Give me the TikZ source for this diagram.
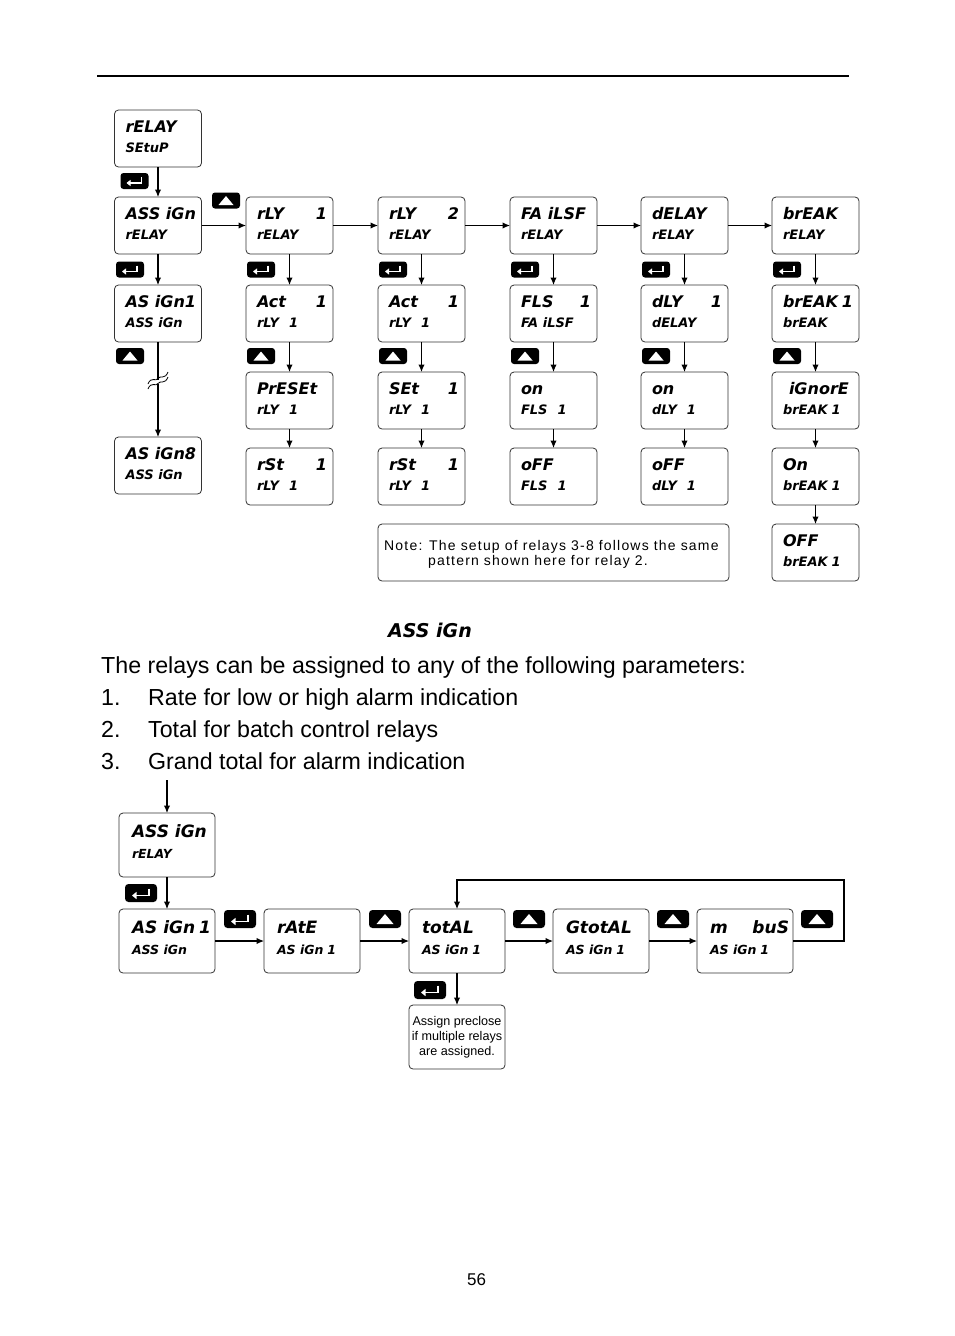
\documentclass[tikz,border=0pt]{standalone}
\usepackage{fontspec}
\setmainfont{Liberation Sans}
\newfontfamily\segfont{DejaVu Sans}
\usetikzlibrary{arrows.meta}
\newcommand\segA{\segfont\bfseries\itshape\fontsize{16}{16}\selectfont}
\newcommand\segB{\segfont\bfseries\itshape\fontsize{13}{13}\selectfont}
\newcommand\segD{\segfont\bfseries\itshape\fontsize{17}{17}\selectfont}
\newcommand\segC{\segfont\bfseries\itshape\fontsize{12.5}{12.5}\selectfont}
\newcommand\dispT[4]{\vbox to 57pt{\hsize=87pt\offinterlineskip\vskip22pt\hbox to 87pt{\hskip11pt\smash{\segA#1}\hfil\smash{\segA#2}\hskip6pt}\vskip20pt\hbox to 87pt{\hskip11pt\smash{\segB#3}\hfil\smash{\segB#4}\hskip6pt}\vfil}}
\newcommand\dispL[4]{\vbox to 64pt{\hsize=96pt\offinterlineskip\vskip24pt\hbox to 96pt{\hskip13pt\smash{\segD#1}\hfil\smash{\segD#2}\hskip4pt}\vskip21pt\hbox to 96pt{\hskip13pt\smash{\segC#3}\hfil\smash{\segC#4}\hskip5pt}\vfil}}
\tikzset{
  dbox/.style={draw=black!80, line width=0.8pt, rounded corners=4pt, inner sep=0pt, outer sep=0pt},
  conn/.style={line width=1.1pt, -{Latex[length=7.5pt,width=6.5pt]}},
  entA/.style={fill=black, rounded corners=3pt, minimum width=28pt, minimum height=16pt, inner sep=0pt,
    path picture={\draw[sharp corners, white, line width=1.5pt, -{Triangle[length=4pt,width=6pt]}]
      ([shift={(7,-4)}]path picture bounding box.center) -- ([shift={(7,2)}]path picture bounding box.center)
      -- ([shift={(-8,2)}]path picture bounding box.center);}},
  upA/.style={fill=black, rounded corners=3pt, minimum width=28pt, minimum height=16pt, inner sep=0pt,
    path picture={\fill[sharp corners, white] ([shift={(-7.5,4.5)}]path picture bounding box.center) -- ([shift={(7.5,4.5)}]path picture bounding box.center)
      -- ([shift={(0,-4.5)}]path picture bounding box.center) -- cycle;}},
  entB/.style={fill=black, rounded corners=3.5pt, minimum width=32pt, minimum height=18pt, inner sep=0pt,
    path picture={\draw[sharp corners, white, line width=1.7pt, -{Triangle[length=4.5pt,width=7pt]}]
      ([shift={(8,-4.5)}]path picture bounding box.center) -- ([shift={(8,2.5)}]path picture bounding box.center)
      -- ([shift={(-9,2.5)}]path picture bounding box.center);}},
  upB/.style={fill=black, rounded corners=3.5pt, minimum width=32pt, minimum height=18pt, inner sep=0pt,
    path picture={\fill[sharp corners, white] ([shift={(-8.5,5)}]path picture bounding box.center) -- ([shift={(8.5,5)}]path picture bounding box.center)
      -- ([shift={(0,-5)}]path picture bounding box.center) -- cycle;}},
  body/.style={anchor=base west, inner sep=0pt, font=\fontsize{23.2}{23.2}\selectfont},
  notetxt/.style={anchor=base west, inner sep=0pt, font=\addfontfeature{LetterSpace=8.5}\fontsize{14}{14}\selectfont},
}
\begin{document}
\begin{tikzpicture}[x=1pt,y=-1pt]
\useasboundingbox (0,0) rectangle (954,1336);
\fill[white] (0,0) rectangle (954,1336);
\draw[line width=1.3pt] (97,76) -- (849,76);

% ---------- top flow ----------
\node[dbox] (r0) at (158,138.5) {\dispT{rELAY}{}{SEtuP}{}};
\node[dbox] (a1) at (158,225.5) {\dispT{ASS iGn}{}{rELAY}{}};
\node[dbox] (b1) at (289.5,225.5) {\dispT{rLY}{1}{rELAY}{}};
\node[dbox] (b2) at (421.5,225.5) {\dispT{rLY}{2}{rELAY}{}};
\node[dbox] (b3) at (553.5,225.5) {\dispT{FA iLSF}{}{rELAY}{}};
\node[dbox] (b4) at (684.5,225.5) {\dispT{dELAY}{}{rELAY}{}};
\node[dbox] (b5) at (815.5,225.5) {\dispT{brEAK}{}{rELAY}{}};

\node[dbox] (a2) at (158,313.5) {\dispT{AS iGn}{1}{ASS iGn}{}};
\node[dbox] (c1) at (289.5,313.5) {\dispT{Act}{1}{rLY\hspace{10pt}1}{}};
\node[dbox] (c2) at (421.5,313.5) {\dispT{Act}{1}{rLY\hspace{10pt}1}{}};
\node[dbox] (c3) at (553.5,313.5) {\dispT{FLS}{1}{FA iLSF}{}};
\node[dbox] (c4) at (684.5,313.5) {\dispT{dLY}{1}{dELAY}{}};
\node[dbox] (c5) at (815.5,313.5) {\dispT{brEAK}{1}{brEAK}{}};

\node[dbox] (a8) at (158,465.5) {\dispT{AS iGn8}{}{ASS iGn}{}};
\node[dbox] (d1) at (289.5,400.5) {\dispT{PrESEt}{}{rLY\hspace{10pt}1}{}};
\node[dbox] (d2) at (421.5,400.5) {\dispT{SEt}{1}{rLY\hspace{10pt}1}{}};
\node[dbox] (d3) at (553.5,400.5) {\dispT{on}{}{FLS\hspace{10pt}1}{}};
\node[dbox] (d4) at (684.5,400.5) {\dispT{on}{}{dLY\hspace{10pt}1}{}};
\node[dbox] (d5) at (815.5,400.5) {\dispT{\hspace{6pt}iGnorE}{}{brEAK\hspace{4pt}1}{}};

\node[dbox] (e1) at (289.5,476.5) {\dispT{rSt}{1}{rLY\hspace{10pt}1}{}};
\node[dbox] (e2) at (421.5,476.5) {\dispT{rSt}{1}{rLY\hspace{10pt}1}{}};
\node[dbox] (e3) at (553.5,476.5) {\dispT{oFF}{}{FLS\hspace{10pt}1}{}};
\node[dbox] (e4) at (684.5,476.5) {\dispT{oFF}{}{dLY\hspace{10pt}1}{}};
\node[dbox] (e5) at (815.5,476.5) {\dispT{On}{}{brEAK\hspace{4pt}1}{}};
\node[dbox] (f5) at (815.5,552.5) {\dispT{OFF}{}{brEAK\hspace{4pt}1}{}};

\node[dbox, minimum width=351pt, minimum height=57pt] (note) at (553.5,552.5) {};
\node[notetxt] (n1) at (384,550) {Note: The setup of relays 3-8 follows the same};
\node[notetxt] (n2) at (428,565) {pattern shown here for relay 2.};

% connectors top
\draw[conn] (r0) -- (a1);
\draw[conn] (a1) -- (b1);
\draw[conn] (b1) -- (b2);
\draw[conn] (b2) -- (b3);
\draw[conn] (b3) -- (b4);
\draw[conn] (b4) -- (b5);
\draw[conn] (a1) -- (a2);
\draw[conn] (b1) -- (c1);
\draw[conn] (b2) -- (c2);
\draw[conn] (b3) -- (c3);
\draw[conn] (b4) -- (c4);
\draw[conn] (b5) -- (c5);
\draw[conn] (a2) -- (a8);
\draw[conn] (c1) -- (d1);
\draw[conn] (c2) -- (d2);
\draw[conn] (c3) -- (d3);
\draw[conn] (c4) -- (d4);
\draw[conn] (c5) -- (d5);
\draw[conn] (d1) -- (e1);
\draw[conn] (d2) -- (e2);
\draw[conn] (d3) -- (e3);
\draw[conn] (d4) -- (e4);
\draw[conn] (d5) -- (e5);
\draw[conn] (e5) -- (f5);

% break symbol
\fill[white] (155,379.5) rectangle (161,383.5);
\draw[line width=0.8pt] (148,384) .. controls (151,376) and (156,382) .. (158,378.5) .. controls (160,375) and (165,380) .. (168,372);
\draw[line width=0.8pt] (148,389) .. controls (151,381) and (156,387) .. (158,383.5) .. controls (160,380) and (165,385) .. (168,377);

% keys top
\node[entA] (k0) at (134.5,181) {};
\node[upA] (u0) at (226,200.5) {};
\node[entA] (k1) at (130,269.5) {};
\node[entA] (k2) at (261,269.5) {};
\node[entA] (k3) at (393,269.5) {};
\node[entA] (k4) at (525,269.5) {};
\node[entA] (k5) at (656,269.5) {};
\node[entA] (k6) at (787,269.5) {};
\node[upA] (u1) at (130,356) {};
\node[upA] (u2) at (261,356) {};
\node[upA] (u3) at (393,356) {};
\node[upA] (u4) at (525,356) {};
\node[upA] (u5) at (656,356) {};
\node[upA] (u6) at (787,356) {};

% ---------- text ----------
\node[anchor=base, inner sep=0pt] (head) at (430,637) {\segfont\bfseries\itshape\fontsize{19}{19}\selectfont ASS iGn};
\node[body] (p0) at (101,673) {The relays can be assigned to any of the following parameters:};
\node[body] (p1) at (101,705) {\makebox[47pt][l]{1.}Rate for low or high alarm indication};
\node[body] (p2) at (101,737) {\makebox[47pt][l]{2.}Total for batch control relays};
\node[body] (p3) at (101,769) {\makebox[47pt][l]{3.}Grand total for alarm indication};

% ---------- bottom flow ----------
\coordinate (in0) at (167,780);
\node[dbox] (g0) at (167,845) {\dispL{ASS iGn}{}{rELAY}{}};
\node[dbox] (h1) at (167,941) {\dispL{AS iGn}{1}{ASS iGn}{}};
\node[dbox] (h2) at (312,941) {\dispL{rAtE}{}{AS iGn\hspace{4pt}1}{}};
\node[dbox] (h3) at (457,941) {\dispL{totAL}{}{AS iGn\hspace{4pt}1}{}};
\node[dbox] (h4) at (601,941) {\dispL{GtotAL}{}{AS iGn\hspace{4pt}1}{}};
\node[dbox] (h5) at (745,941) {\dispL{m}{buS}{AS iGn\hspace{4pt}1}{}};
\node[dbox, minimum width=96pt, minimum height=64pt, align=center, font=\fontsize{12.6}{15}\selectfont] (pre) at (457,1037) {Assign preclose\\if multiple relays\\are assigned.};

\draw[conn] (in0) -- (g0);
\draw[conn] (g0) -- (h1);
\draw[conn] (h1) -- (h2);
\draw[conn] (h2) -- (h3);
\draw[conn] (h3) -- (h4);
\draw[conn] (h4) -- (h5);
\draw[conn] (h5.east) -- (844,941) -- (844,880) -- (457,880) -- (h3.north);
\draw[conn] (h3) -- (pre);

\node[entB] (kb0) at (141,893) {};
\node[entB] (kb1) at (240,919) {};
\node[upB] (ub1) at (385,919) {};
\node[upB] (ub2) at (529,919) {};
\node[upB] (ub3) at (673,919) {};
\node[upB] (ub4) at (817,919) {};
\node[entB] (kb2) at (430,990) {};

\node[anchor=base, inner sep=0pt, font=\fontsize{17}{17}\selectfont] (pg) at (476.5,1285) {56};
\end{tikzpicture}
\end{document}
